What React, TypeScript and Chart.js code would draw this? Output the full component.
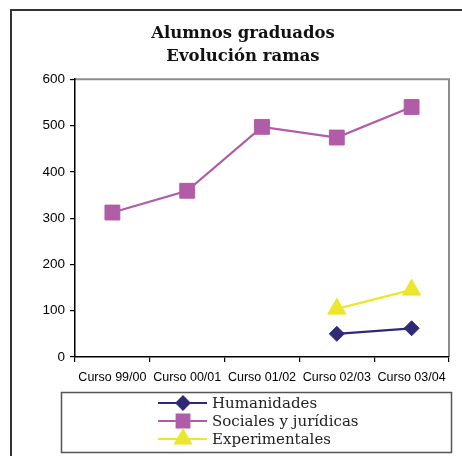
import React, { useEffect, useRef } from "react";
import { Chart, registerables } from "chart.js";
import { drawPoint } from "chart.js/helpers";

Chart.register(...registerables);

const titleLines = ["Alumnos graduados", "Evolución ramas"];
const categories = ["Curso 99/00", "Curso 00/01", "Curso 01/02", "Curso 02/03", "Curso 03/04"];
const humanidades = [null, null, null, 50, 62];
const sociales = [312, 359, 497, 474, 540];
const experimentales = [null, null, null, 104, 145];
const yMin = 0;
const yMax = 600;
const yStep = 100;

const seriesLabels = ["Humanidades", "Sociales y jurídicas", "Experimentales"];
const seriesColors = ["#2E2A78", "#B05CA6", "#ECE62C"];
const seriesStyles = ["rectRot", "rect", "triangle"];
const seriesRadius = [7.5, 10.5, 10.5];

const framePlugin = {
  id: "frame",
  beforeDraw(chart: any) {
    const ctx = chart.ctx;
    ctx.save();
    ctx.fillStyle = "#ffffff";
    ctx.fillRect(0, 0, chart.width, chart.height);
    ctx.strokeStyle = "#333333";
    ctx.lineWidth = 2;
    ctx.beginPath();
    ctx.moveTo(11, chart.height);
    ctx.lineTo(11, 10);
    ctx.lineTo(chart.width, 10);
    ctx.stroke();
    const a = chart.chartArea;
    ctx.strokeStyle = "#8c8c8c";
    ctx.lineWidth = 2;
    ctx.beginPath();
    ctx.moveTo(a.left, a.top);
    ctx.lineTo(a.right, a.top);
    ctx.lineTo(a.right, a.bottom);
    ctx.stroke();
    ctx.restore();
  },
  afterDraw(chart: any) {
    const ctx = chart.ctx;
    ctx.save();
    ctx.strokeStyle = "#555555";
    ctx.lineWidth = 1.5;
    ctx.strokeRect(61.5, 392.5, 390, 60);
    const ds = chart.data.datasets;
    ds.forEach((d: any, i: number) => {
      const y = 403 + i * 18;
      ctx.strokeStyle = d.borderColor;
      ctx.lineWidth = 2.2;
      ctx.beginPath();
      ctx.moveTo(158, y);
      ctx.lineTo(207, y);
      ctx.stroke();
      ctx.fillStyle = d.pointBackgroundColor;
      ctx.strokeStyle = d.pointBorderColor;
      drawPoint(ctx, { pointStyle: d.pointStyle, radius: d.pointRadius * 0.85, rotation: 0, borderWidth: 1 }, 183, y);
      ctx.fillStyle = "#222222";
      ctx.font = "15px 'DejaVu Serif'";
      ctx.textBaseline = "middle";
      ctx.textAlign = "left";
      ctx.fillText(d.label, 212, y + 1);
    });
    ctx.restore();
  },
};

export default function App() {
  const ref = useRef<HTMLCanvasElement | null>(null);
  useEffect(() => {
    if (!ref.current) return;
    const series = [humanidades, sociales, experimentales];
    const chart = new Chart(ref.current, {
      type: "line",
      data: {
        labels: categories,
        datasets: series.map((values, i) => ({
          label: seriesLabels[i],
          data: values,
          borderColor: seriesColors[i],
          backgroundColor: seriesColors[i],
          pointBackgroundColor: seriesColors[i],
          pointBorderColor: seriesColors[i],
          pointStyle: seriesStyles[i],
          pointRadius: seriesRadius[i],
          pointBorderWidth: 1,
          borderWidth: 2.2,
          tension: 0,
          fill: false,
        })),
      },
      options: {
        animation: false,
        responsive: true,
        maintainAspectRatio: false,
        layout: { padding: { left: 37, right: 13, top: 10, bottom: 69 } },
        plugins: {
          legend: { display: false },
          tooltip: { enabled: false },
          title: {
            display: true,
            text: titleLines,
            color: "#111111",
            font: { family: "'DejaVu Serif'", size: 16.5, weight: "bold", lineHeight: 1.4 },
            padding: { top: 12.5, bottom: 10.5 },
          },
        },
        scales: {
          x: {
            type: "category",
            offset: true,
            afterFit: (s: any) => { s.height = 30; },
            grid: { offset: true, drawOnChartArea: false, tickLength: 5, color: "#000000", lineWidth: 1.2 },
            border: { color: "#000000", width: 1.5 },
            ticks: { color: "#000000", padding: 8, maxRotation: 0, autoSkip: false, font: { family: "'Liberation Sans'", size: 12.5 } },
          },
          y: {
            min: yMin,
            max: yMax,
            afterFit: (s: any) => { s.width = 38; },
            grid: { drawOnChartArea: false, tickLength: 5, color: "#000000", lineWidth: 1.2 },
            border: { color: "#000000", width: 1.5 },
            ticks: { stepSize: yStep, color: "#000000", padding: 5, font: { family: "'Liberation Sans'", size: 13.5 } },
          },
        },
      },
      plugins: [framePlugin],
    });
    return () => chart.destroy();
  }, []);
  return (
    <div style={{ position: "fixed", left: 0, top: 0, width: 462, height: 456, background: "#fff" }}>
      <canvas ref={ref} />
    </div>
  );
}
